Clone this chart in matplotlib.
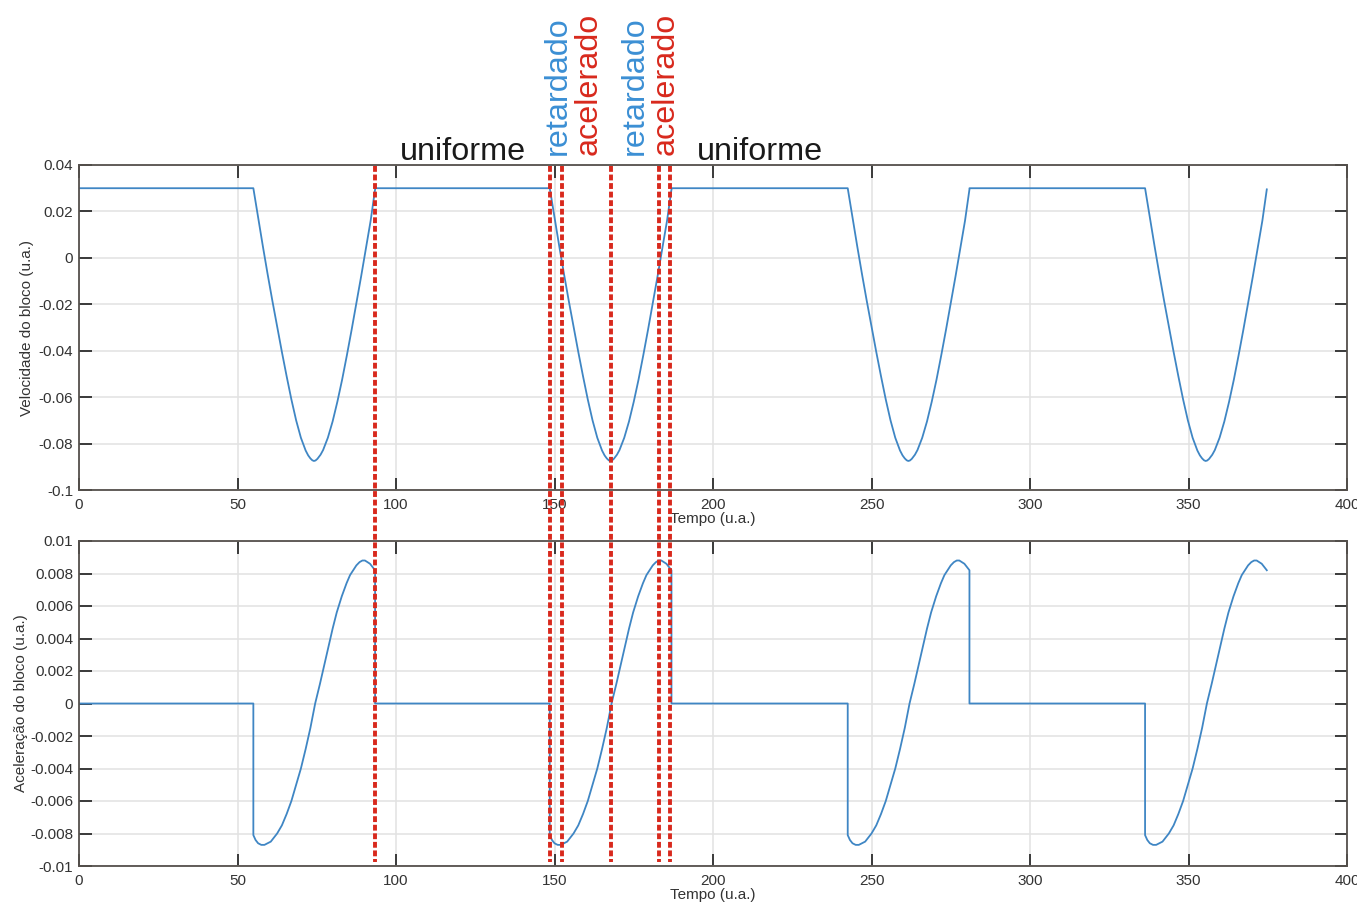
import matplotlib
matplotlib.use("Agg")
import matplotlib.pyplot as plt
from matplotlib.lines import Line2D
from matplotlib.ticker import FuncFormatter, FixedLocator
import matplotlib.transforms as mtransforms

plt.rcParams['font.family'] = ['Liberation Sans', 'DejaVu Sans']

# ---------------- data ----------------
v_flat = 0.03                      # velocity on the uniform stretches
dip_starts = [55.0, 148.5, 242.5, 336.3]   # start time of each oscillation
dip_length = 38.4

# velocity during one dip (offset from dip start, value)
vel_dip_t = [0, 1.5, 3.0, 4.5, 6.0, 7.5, 9.0, 10.5, 12.0, 13.5, 15.0, 16.5, 17.3,
             18.0, 18.6, 19.1, 19.6, 20.2, 21.2, 22.0, 23.5, 25.0, 26.5, 28.0,
             29.5, 31.0, 32.5, 34.0, 35.5, 37.0, 38.4]
vel_dip_v = [0.030, 0.0175, 0.0050, -0.0070, -0.0185, -0.0295, -0.0405, -0.0510,
             -0.0610, -0.0700, -0.0775, -0.0830, -0.0851, -0.0864, -0.0872,
             -0.0875, -0.0873, -0.0866, -0.0848, -0.0828, -0.0775, -0.0705,
             -0.0620, -0.0525, -0.0420, -0.0310, -0.0195, -0.0080, 0.0040,
             0.0160, 0.0295]

# acceleration during one dip (offset from dip start, value)
acc_dip_t = [0, 0.7, 1.5, 2.5, 3.5, 4.5, 5.5, 7.5, 9.0, 10.5, 12.0, 13.5, 15.0,
             16.5, 18.0, 19.5, 21.0, 22.4, 23.7, 25.0, 26.3, 27.9, 29.4, 30.5,
             31.5, 32.5, 33.5, 34.4, 35.2, 36.0, 36.8, 37.6, 38.4]
acc_dip_a = [-0.0081, -0.0084, -0.0086, -0.0087, -0.0087, -0.0086, -0.0085,
             -0.0080, -0.0075, -0.0068, -0.0060, -0.0050, -0.0040, -0.0028,
             -0.0015, 0.0000, 0.0012, 0.0024, 0.0035, 0.0046, 0.0056, 0.0066,
             0.0074, 0.0079, 0.0082, 0.0085, 0.0087, 0.0088, 0.0088, 0.0087,
             0.0086, 0.0084, 0.0082]

# red dotted markers
marker_times = [93.4, 148.6, 152.4, 167.7, 183.0, 186.5]

x_ticks = [0, 50, 100, 150, 200, 250, 300, 350, 400]
v_ticks = [-0.1, -0.08, -0.06, -0.04, -0.02, 0, 0.02, 0.04]
a_ticks = [-0.01, -0.008, -0.006, -0.004, -0.002, 0, 0.002, 0.004, 0.006, 0.008, 0.01]

# ---------------- build series ----------------
vt, vv = [0.0], [v_flat]
at, aa = [0.0], [0.0]
for k, s in enumerate(dip_starts):
    vt.append(s); vv.append(v_flat)
    for o, val in zip(vel_dip_t[1:], vel_dip_v[1:]):
        vt.append(s + o); vv.append(val)
    at.append(s); aa.append(0.0)
    for o, val in zip(acc_dip_t, acc_dip_a):
        at.append(s + o); aa.append(val)
    if k < len(dip_starts) - 1:
        at.append(s + dip_length); aa.append(0.0)
        vt.append(s + dip_length); vv.append(v_flat)

# ---------------- figure ----------------
W, H = 1357, 908
fig = plt.figure(figsize=(W / 100, H / 100), dpi=100)
left, right = 79 / W, 1347 / W
ax1 = fig.add_axes([left, 1 - 490 / H, right - left, 325 / H])
ax2 = fig.add_axes([left, 1 - 866 / H, right - left, 325 / H])

line_col = '#3f86c4'
spine_col = '#55504c'
fmt = FuncFormatter(lambda x, p: ('%g' % x).replace('−', '-'))

for ax, yt, lab, lx in [(ax1, v_ticks, 'Velocidade do bloco (u.a.)', -0.0355),
                        (ax2, a_ticks, 'Aceleração do bloco (u.a.)', -0.040)]:
    ax.set_xlim(0, 400)
    ax.set_ylim(yt[0], yt[-1])
    ax.xaxis.set_major_locator(FixedLocator(x_ticks))
    ax.yaxis.set_major_locator(FixedLocator(yt))
    ax.xaxis.set_major_formatter(fmt)
    ax.yaxis.set_major_formatter(fmt)
    ax.grid(True, color='#e2e2e2', linewidth=1.1)
    ax.set_axisbelow(True)
    ax.tick_params(direction='in', length=9, width=1.4, color='#3a3a3a',
                   top=True, right=True, labelsize=11, labelcolor='#333333')
    ax.tick_params(axis='x', pad=5.5)
    ax.tick_params(axis='y', pad=4.3)
    for sp in ax.spines.values():
        sp.set_color(spine_col)
        sp.set_linewidth(1.3)
    ax.set_xlabel('Tempo (u.a.)', fontsize=11, color='#333333', labelpad=0)
    ax.set_ylabel(lab, fontsize=11, color='#333333')
    ax.yaxis.set_label_coords(lx, 0.5)

ax1.plot(vt, vv, color=line_col, linewidth=1.3)
ax2.plot(at, aa, color=line_col, linewidth=1.3)

# red dotted vertical lines spanning both panels
blend = mtransforms.blended_transform_factory(ax1.transData, fig.transFigure)
red = '#d8291d'
for t in marker_times:
    ln = Line2D([t, t], [1 - 166 / H, 1 - 862 / H], transform=blend,
                color=red, linewidth=2.8, linestyle=(0, (1.5, 0.7)),
                dash_capstyle='butt', zorder=10)
    fig.add_artist(ln)

# annotations
fs = 23.3
fig.text(463 / W, 1 - 160 / H, 'uniforme', fontsize=fs, color='#1a1a1a',
         ha='center', va='baseline')
fig.text(760 / W, 1 - 160 / H, 'uniforme', fontsize=fs, color='#1a1a1a',
         ha='center', va='baseline')
blue_t = '#3b8fd4'
for xc, txt, col in [(558, 'retardado', blue_t), (589, 'acelerado', red),
                     (635, 'retardado', blue_t), (666, 'acelerado', red)]:
    fig.text(xc / W, 1 - 155 / H, txt, fontsize=fs, color=col, rotation=90,
             ha='center', va='bottom')

fig.savefig('out.png', dpi=100)
